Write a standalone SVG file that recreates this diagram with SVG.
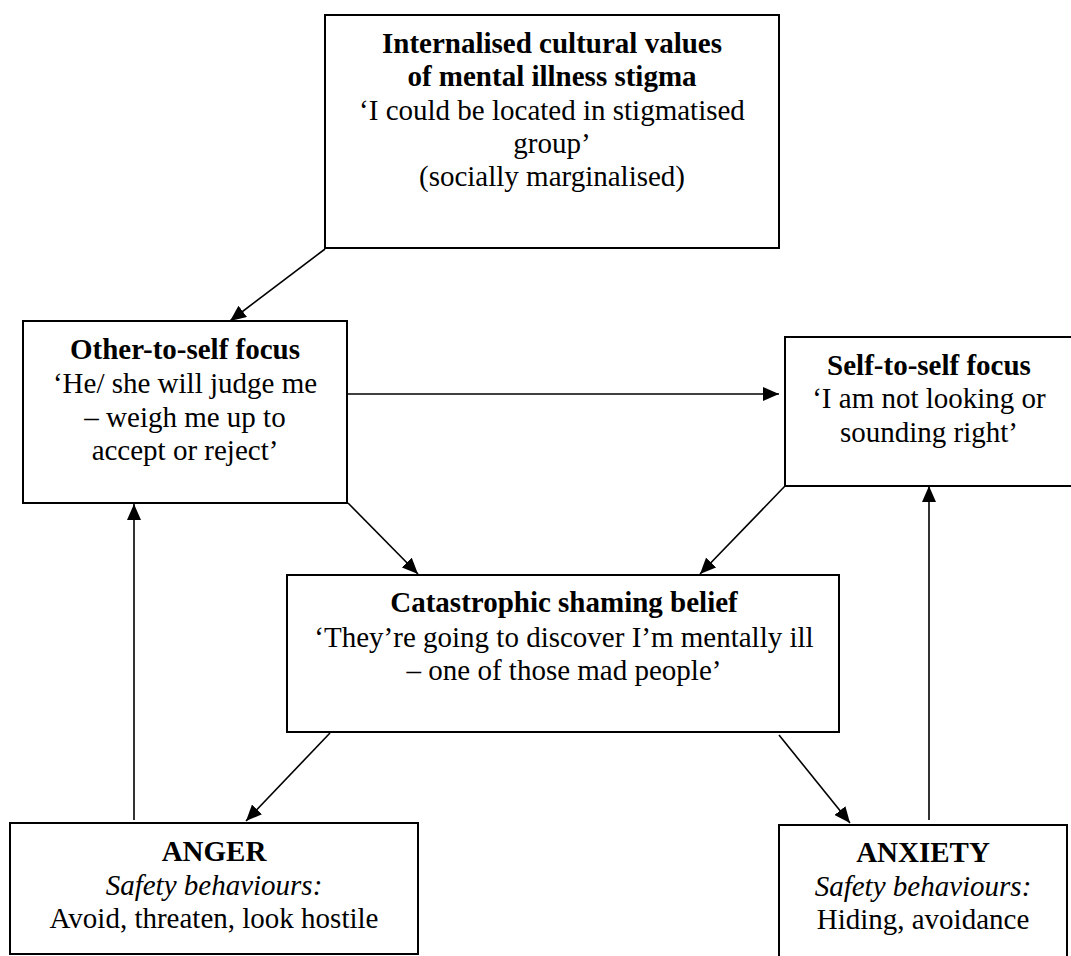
<svg xmlns="http://www.w3.org/2000/svg" width="1071" height="956" viewBox="0 0 1071 956">
<defs>
<marker id="ah" markerWidth="16" markerHeight="14" refX="16" refY="7" orient="auto" markerUnits="userSpaceOnUse">
<path d="M0,0 L16,7 L0,14 Z" fill="#000"/>
</marker>
<style>
.box{fill:#fff;stroke:#000;stroke-width:2}
.t{font-family:"Liberation Serif","Times New Roman",serif;font-size:29px;fill:#000;text-anchor:middle}
.b{font-weight:bold}
.i{font-style:italic}
.c{stroke:#000;stroke-width:1.6;fill:none;marker-end:url(#ah)}
</style>
</defs>
<rect width="1071" height="956" fill="#fff"/>
<g id="connectors">
<line class="c" x1="325" y1="249" x2="230" y2="321"/>
<line class="c" x1="347" y1="394" x2="779" y2="394"/>
<line class="c" x1="348" y1="503" x2="418" y2="574"/>
<line class="c" x1="785" y1="486" x2="700" y2="574"/>
<line class="c" x1="134" y1="820" x2="134" y2="504"/>
<line class="c" x1="929" y1="820" x2="929" y2="486"/>
<line class="c" x1="330" y1="733" x2="246" y2="821"/>
<line class="c" x1="779" y1="735" x2="850" y2="823"/>
</g>
<g id="stigma">
<rect class="box" x="325" y="15" width="454" height="233"/>
<text class="t b" x="552" y="53">Internalised cultural values</text>
<text class="t b" x="552" y="86">of mental illness stigma</text>
<text class="t" x="552" y="120">‘I could be located in stigmatised</text>
<text class="t" x="552" y="153">group’</text>
<text class="t" x="552" y="186">(socially marginalised)</text>
</g>
<g id="other">
<rect class="box" x="23" y="321" width="324" height="182"/>
<text class="t b" x="185" y="359">Other-to-self focus</text>
<text class="t" x="185" y="393">‘He/ she will judge me</text>
<text class="t" x="185" y="427">– weigh me up to</text>
<text class="t" x="185" y="460">accept or reject’</text>
</g>
<g id="self">
<rect class="box" x="785" y="337" width="290" height="149"/>
<text class="t b" x="929" y="375">Self-to-self focus</text>
<text class="t" x="929" y="408">‘I am not looking or</text>
<text class="t" x="929" y="442">sounding right’</text>
</g>
<g id="catastrophic">
<rect class="box" x="287" y="575" width="552" height="157"/>
<text class="t b" x="564" y="612">Catastrophic shaming belief</text>
<text class="t" x="564" y="647">‘They’re going to discover I’m mentally ill</text>
<text class="t" x="564" y="680">– one of those mad people’</text>
</g>
<g id="anger">
<rect class="box" x="10" y="823" width="408" height="131"/>
<text class="t b" x="214" y="861">ANGER</text>
<text class="t i" x="214" y="895">Safety behaviours:</text>
<text class="t" x="214" y="928">Avoid, threaten, look hostile</text>
</g>
<g id="anxiety">
<rect class="box" x="779" y="825" width="288" height="132"/>
<text class="t b" x="923" y="862">ANXIETY</text>
<text class="t i" x="923" y="896">Safety behaviours:</text>
<text class="t" x="923" y="929">Hiding, avoidance</text>
</g>
</svg>
